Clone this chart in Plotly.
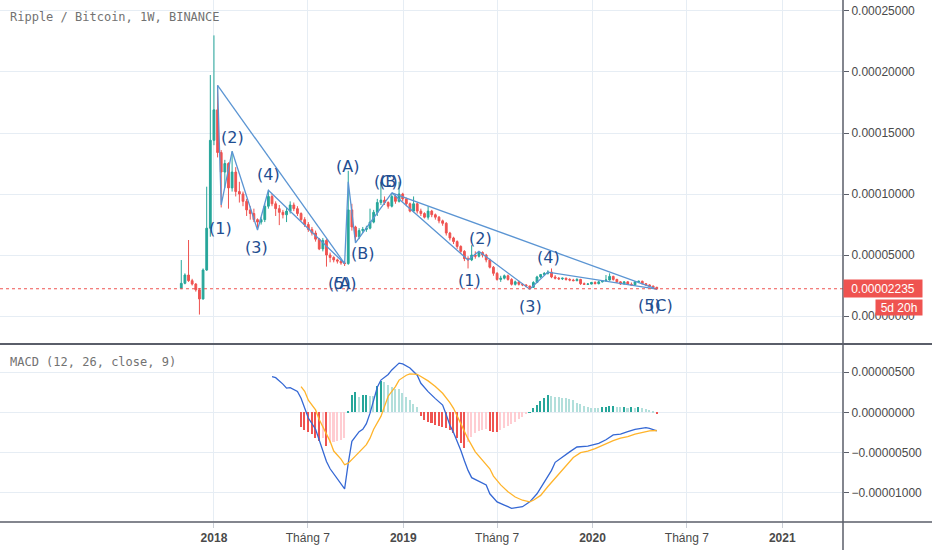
import pandas as pd
import plotly.graph_objects as go

# Ripple / Bitcoin weekly candles, prices in units of 1e-5 BTC
week_start = pd.Timestamp("2017-10-30")

open_e5 = [2.27, 2.68, 3.36, 2.90, 2.62, 2.15, 1.40, 3.77, 7.20, 14.4,
           16.9, 13.4, 11.8, 12.5, 10.5, 11.8, 10.2, 10.0, 9.4, 8.7,
           8.4, 7.9, 7.7, 7.9, 9.0, 9.8, 9.2, 8.8, 8.5, 8.3,
           8.6, 9.1, 8.8, 8.4, 7.9, 7.5, 7.1, 6.8, 6.3, 5.5,
           6.2, 5.0, 4.8, 4.6, 4.5, 4.35, 4.3, 8.7, 7.3, 6.5,
           7.0, 7.1, 7.2, 7.7, 8.5, 9.3, 9.5, 9.3, 9.0, 9.8,
           9.4, 10.0, 9.6, 9.2, 8.6, 9.2, 8.6, 8.4, 8.1, 8.6,
           8.3, 8.1, 7.8, 7.6, 6.8, 6.4, 6.1, 5.7, 5.3, 4.7,
           4.6, 5.0, 4.9, 5.2, 5.0, 4.6, 4.0, 3.5, 3.0, 3.1,
           3.3, 3.0, 2.6, 2.8, 2.6, 2.55, 2.45, 2.35, 2.75, 3.2,
           3.4, 3.5, 3.6, 3.2, 3.1, 3.05, 3.1, 3.0, 2.95, 2.9,
           3.0, 2.65, 2.6, 2.62, 2.75, 2.65, 2.8, 2.9, 2.95, 3.25,
           3.0, 2.8, 2.62, 2.8, 2.6, 2.55, 2.8, 2.85, 2.65, 2.55,
           2.45, 2.35]
high_e5 = [4.59, 3.50, 6.23, 3.05, 2.70, 2.30, 3.90, 10.6, 19.75, 23.0,
           18.9, 13.6, 12.8, 12.6, 13.5, 12.2, 11.0, 10.2, 9.6, 9.0,
           8.8, 8.0, 8.1, 9.2, 10.3, 10.0, 9.4, 9.1, 8.7, 8.9,
           9.4, 9.3, 9.0, 8.5, 8.1, 7.7, 7.3, 7.0, 6.4, 6.4,
           6.3, 5.2, 4.9, 4.7, 4.6, 4.5, 11.9, 9.2, 7.4, 7.2,
           7.3, 7.4, 8.8, 8.7, 9.6, 11.0, 9.8, 9.4, 10.1, 10.0,
           11.0, 10.1, 9.7, 9.3, 9.8, 9.3, 8.8, 8.5, 9.0, 8.7,
           8.4, 8.2, 7.9, 7.7, 6.9, 6.5, 6.2, 5.8, 5.4, 4.9,
           5.8, 5.3, 5.3, 5.3, 5.1, 4.7, 4.1, 3.6, 3.3, 3.4,
           3.4, 3.1, 2.9, 2.9, 2.7, 2.6, 2.5, 2.85, 3.3, 3.45,
           3.6, 3.75, 3.9, 3.35, 3.2, 3.15, 3.15, 3.1, 3.05, 3.1,
           3.05, 2.75, 2.7, 2.8, 2.85, 2.9, 2.95, 3.36, 3.5, 3.3,
           3.05, 2.85, 2.85, 2.85, 2.75, 2.85, 2.9, 2.9, 2.7, 2.6,
           2.5, 2.4]
low_e5 = [2.20, 2.60, 2.80, 2.50, 2.00, 0.12, 1.35, 3.70, 6.50, 14.0,
          13.0, 8.9, 10.5, 8.8, 10.2, 9.8, 9.3, 9.0, 8.2, 7.9,
          7.7, 7.05, 7.5, 7.7, 8.8, 9.0, 8.2, 7.45, 8.0, 7.7,
          8.4, 8.6, 8.2, 7.8, 7.3, 6.9, 6.6, 6.1, 5.4, 5.3,
          4.05, 4.4, 4.4, 4.3, 4.2, 4.1, 4.2, 7.0, 6.0, 6.3,
          6.8, 6.9, 7.1, 7.6, 8.2, 9.1, 9.1, 8.8, 8.9, 9.2,
          9.3, 9.4, 9.0, 8.5, 8.5, 8.4, 8.2, 8.0, 7.9, 8.1,
          7.9, 7.6, 7.4, 6.6, 6.2, 5.9, 5.5, 5.1, 4.5, 3.9,
          4.5, 4.7, 4.8, 4.8, 4.4, 3.9, 3.3, 2.9, 2.8, 3.0,
          2.9, 2.5, 2.5, 2.5, 2.45, 2.35, 2.2, 2.3, 2.7, 3.1,
          3.3, 3.4, 3.1, 3.0, 2.95, 2.95, 2.9, 2.85, 2.85, 2.85,
          2.55, 2.55, 2.55, 2.6, 2.6, 2.6, 2.75, 2.8, 2.9, 2.9,
          2.7, 2.55, 2.6, 2.55, 2.5, 2.5, 2.7, 2.6, 2.5, 2.35,
          2.3, 2.13]
close_e5 = [2.68, 3.36, 2.90, 2.62, 2.15, 1.40, 3.77, 7.20, 14.4, 16.9,
            13.4, 11.8, 12.5, 10.5, 11.8, 10.2, 10.0, 9.4, 8.7, 8.4,
            7.9, 7.7, 7.9, 9.0, 9.8, 9.2, 8.8, 8.5, 8.3, 8.6,
            9.1, 8.8, 8.4, 7.9, 7.5, 7.1, 6.8, 6.3, 5.5, 6.2,
            5.0, 4.8, 4.6, 4.5, 4.35, 4.3, 8.7, 7.3, 6.5, 7.0,
            7.1, 7.2, 7.7, 8.5, 9.3, 9.5, 9.3, 9.0, 9.8, 9.4,
            10.0, 9.6, 9.2, 8.6, 9.2, 8.6, 8.4, 8.1, 8.6, 8.3,
            8.1, 7.8, 7.6, 6.8, 6.4, 6.1, 5.7, 5.3, 4.7, 4.6,
            5.0, 4.9, 5.2, 5.0, 4.6, 4.0, 3.5, 3.0, 3.1, 3.3,
            3.0, 2.6, 2.8, 2.6, 2.55, 2.45, 2.35, 2.75, 3.2, 3.4,
            3.5, 3.6, 3.2, 3.1, 3.05, 3.1, 3.0, 2.95, 2.9, 3.0,
            2.65, 2.6, 2.62, 2.75, 2.65, 2.8, 2.9, 2.95, 3.25, 3.0,
            2.8, 2.62, 2.8, 2.6, 2.55, 2.8, 2.85, 2.65, 2.55, 2.45,
            2.35, 2.235]
last_price = 0.00002235

# MACD (12, 26, close, 9), values in units of 1e-6, read at these week numbers
macd_weeks = [25, 26, 28, 29, 30, 32, 33, 34, 35, 37, 38, 39, 40, 41, 43, 44, 45, 46,
              47, 49, 50, 51, 52, 54, 55, 57, 58, 60, 61, 63, 65, 66, 68, 70, 72, 73,
              74, 75, 76, 77, 78, 79, 80, 82, 84, 85, 87, 89, 91, 94, 96, 98, 100, 102,
              103, 105, 107, 109, 112, 115, 117, 119, 121, 123, 125, 128, 129, 131]
macd_e6 = [4.43, 4.3, 3.5, 3.0, 3.06, 2.6, 1.74, 0.5, -0.7, -2.1, -3.4, -4.6, -6.1, -7.0,
           -8.3, -9.0, -9.5, -6.3, -3.6, -2.4, -2.1, -1.4, -0.1, 3.1, 4.0, 4.7, 5.26, 6.1,
           6.0, 5.5, 4.6, 3.6, 2.57, 1.7, 0.9, -0.3, -1.6, -2.5, -3.5, -4.7, -6.0, -7.2,
           -8.1, -8.5, -9.0, -10.1, -11.1, -11.5, -11.9, -11.7, -11.1, -10.1, -8.6, -7.2,
           -6.2, -5.5, -4.9, -4.3, -4.2, -3.85, -3.4, -2.8, -2.7, -2.4, -2.1, -1.9, -2.0, -2.3]
signal_weeks = [33, 34, 35, 37, 38, 39, 40, 41, 42, 44, 45, 46, 48, 49, 51, 52, 53, 55,
                56, 57, 59, 60, 62, 63, 65, 66, 68, 70, 72, 74, 75, 77, 79, 81, 83, 85,
                86, 88, 90, 92, 94, 96, 97, 99, 101, 103, 105, 107, 108, 110, 112, 114,
                116, 118, 119, 121, 123, 125, 127, 129, 131]
signal_e6 = [3.2, 2.6, 1.5, 0.3, -0.9, -1.8, -2.5, -3.6, -4.8, -5.8, -6.5, -6.3, -5.4,
             -4.9, -4.0, -3.2, -2.1, -0.5, 0.9, 2.0, 3.2, 4.0, 4.6, 4.76, 4.72, 4.43, 3.9,
             3.2, 2.36, 1.2, 0.5, -1.4, -3.3, -4.9, -5.9, -7.0, -7.9, -9.0, -9.85, -10.5,
             -10.9, -11.1, -10.9, -10.3, -9.2, -8.2, -7.2, -6.1, -5.6, -5.0, -4.8, -4.5,
             -4.1, -3.8, -3.5, -3.2, -3.0, -2.7, -2.5, -2.3, -2.25]
hist_first_week = 33
hist_e6 = [-1.78, -2.19, -2.40, -2.73, -3.15, -3.56, -3.23, -4.14, -3.85, -3.73, -3.56, -3.44, -3.15,
           0.17, 2.15, 2.48, 1.94, 2.15, 2.20, 2.05, 2.00, 3.27, 3.89, 3.73, 3.35, 3.15, 2.94,
           2.86, 2.36, 1.94, 1.53, 1.00, 0.60,
           -0.41, -0.95, -1.16, -1.37, -1.57, -1.70, -1.78, -1.90, -2.20, -2.61, -3.15, -3.85,
           -4.39, -3.64, -3.02, -2.61, -2.32, -2.19, -2.07, -2.32, -2.40, -2.48, -2.19, -1.90,
           -1.66, -1.49, -1.16, -0.83, -0.54, -0.25,
           0.04, 0.50, 0.91, 1.41, 1.82, 2.15, 2.07, 1.94, 1.86, 1.82, 1.80, 1.66, 1.53, 1.20,
           0.99, 0.83, 0.70, 0.58, 0.58, 0.58, 0.62, 0.70, 0.83, 0.84, 0.70, 0.62, 0.70, 0.58,
           0.62, 0.58, 0.62, 0.50, 0.41, 0.29, 0.17, -0.12]

# Elliott wave pivots: (week number, price e-5)
impulse1_weeks = [10, 11, 14, 21, 24, 45]
impulse1_e5 = [18.9, 9.1, 13.5, 7.05, 10.3, 4.3]
trend1_weeks = [10, 45]
trend1_e5 = [18.9, 4.3]
abc_weeks = [45, 46, 48, 58]
abc_e5 = [4.3, 11.0, 6.0, 10.1]
impulse2_weeks = [58, 79, 82, 96, 101, 131]
impulse2_e5 = [10.1, 4.6, 5.3, 2.2, 3.6, 2.2]
trend2_weeks = [58, 131]
trend2_e5 = [10.1, 2.2]

wave_labels = [("(1)", 10.9, 7.2), ("(2)", 14.05, 14.6), ("(3)", 20.8, 5.6), ("(4)", 24.1, 11.6),
               ("(A)", 45.8, 12.25), ("(B)", 50.0, 5.15), ("(5)", 43.7, 2.7), ("(A)", 45.0, 2.7),
               ("(C)", 56.4, 11.05), ("(B)", 57.6, 11.05),
               ("(1)", 79.4, 2.95), ("(2)", 82.4, 6.35), ("(3)", 96.2, 0.76), ("(4)", 101.3, 4.8),
               ("(5)", 129.1, 0.9), ("(C)", 132.2, 0.9)]

tick_dates = ["2018-01-01", "2018-07-01", "2019-01-01", "2019-07-01",
              "2020-01-01", "2020-07-01", "2021-01-01"]
tick_text = ["<b>2018</b>", "Tháng 7", "<b>2019</b>", "Tháng 7",
             "<b>2020</b>", "Tháng 7", "<b>2021</b>"]


def wk(w):
    return week_start + pd.Timedelta(days=7 * w)


E5 = 1e-5
E6 = 1e-6
UP = "#26a69a"
DOWN = "#ef5350"
WAVE = "#5b95d3"
GRID = "#e6edf4"
BORDER = "#5a5e69"
TXT = "#4a4a4a"
FONT = "Liberation Sans"

dates = [wk(i) for i in range(len(close_e5))]

fig = go.Figure()
fig.add_trace(go.Candlestick(
    x=dates,
    open=[v * E5 for v in open_e5], high=[v * E5 for v in high_e5],
    low=[v * E5 for v in low_e5], close=[v * E5 for v in close_e5],
    increasing=dict(line=dict(color=UP, width=1), fillcolor=UP),
    decreasing=dict(line=dict(color=DOWN, width=1), fillcolor=DOWN),
    whiskerwidth=0, xaxis="x", yaxis="y", showlegend=False))

for ws, ps in [(trend1_weeks, trend1_e5), (impulse1_weeks, impulse1_e5), (abc_weeks, abc_e5),
               (trend2_weeks, trend2_e5), (impulse2_weeks, impulse2_e5)]:
    fig.add_trace(go.Scatter(x=[wk(w) for w in ws], y=[p * E5 for p in ps], mode="lines",
                             line=dict(color=WAVE, width=1.3), xaxis="x", yaxis="y",
                             showlegend=False, hoverinfo="skip"))

# histogram colours follow TradingView: grow/fall above and below zero
hist_colors = []
prev = None
for h in hist_e6:
    if h >= 0:
        hist_colors.append(UP if (prev is not None and h > prev) else "#b2dfdb")
    else:
        hist_colors.append("#ffcdd2" if (prev is not None and h > prev) else DOWN)
    prev = h

fig.add_trace(go.Bar(
    x=[wk(hist_first_week + k) for k in range(len(hist_e6))],
    y=[h * E6 for h in hist_e6], marker=dict(color=hist_colors, line=dict(width=0)),
    width=0.42 * 7 * 24 * 3600 * 1000, xaxis="x2", yaxis="y2", showlegend=False))
fig.add_trace(go.Scatter(x=[wk(w) for w in macd_weeks], y=[v * E6 for v in macd_e6],
                         mode="lines", line=dict(color="#3568d4", width=1.3),
                         xaxis="x2", yaxis="y2", showlegend=False))
fig.add_trace(go.Scatter(x=[wk(w) for w in signal_weeks], y=[v * E6 for v in signal_e6],
                         mode="lines", line=dict(color="#ffb42b", width=1.3),
                         xaxis="x2", yaxis="y2", showlegend=False))

x_range = ["2016-11-14 10:00", "2021-04-28 02:00"]
xcommon = dict(range=x_range, tickvals=tick_dates, showgrid=True, gridcolor=GRID,
               gridwidth=1, zeroline=False)

annotations = [
    dict(text="Ripple / Bitcoin, 1W, BINANCE", xref="paper", yref="paper", x=8 / 843,
         y=1 - 17 / 522, xanchor="left", yanchor="middle", showarrow=False,
         font=dict(family="DejaVu Sans Mono", size=12, color="#727272")),
    dict(text="MACD (12, 26, close, 9)", xref="paper", yref="paper", x=8 / 843,
         y=1 - 362 / 522, xanchor="left", yanchor="middle", showarrow=False,
         font=dict(family="DejaVu Sans Mono", size=12, color="#727272")),
    dict(text="0.00002235", xref="paper", yref="y", x=1, y=last_price, xanchor="left",
         yanchor="middle", showarrow=False, bgcolor=DOWN, borderpad=2, width=74, height=13,
         font=dict(family=FONT, size=12, color="white")),
    dict(text="5d 20h", xref="paper", yref="y", x=875 / 843, y=last_price, xanchor="left",
         yanchor="top", yshift=-10, showarrow=False, bgcolor=DOWN, borderpad=1, width=44,
         height=13, font=dict(family=FONT, size=12, color="white")),
]
for text, w, p in wave_labels:
    annotations.append(dict(text=text, x=wk(w), y=p * E5, xref="x", yref="y",
                            showarrow=False, font=dict(family="DejaVu Sans", size=16,
                                                       color="#1f4e91")))

shapes = [
    dict(type="line", xref="paper", yref="y", x0=0, x1=1, y0=last_price, y1=last_price,
         line=dict(color=DOWN, width=1, dash="dot"), layer="above"),
    dict(type="line", xref="paper", yref="paper", x0=0, x1=932 / 843,
         y0=1 - 344 / 522, y1=1 - 344 / 522, line=dict(color=BORDER, width=2)),
    dict(type="line", xref="paper", yref="paper", x0=0, x1=932 / 843, y0=0, y1=0,
         line=dict(color=BORDER, width=1.5)),
    dict(type="line", xref="paper", yref="paper", x0=1, x1=1, y0=-28 / 522, y1=1,
         line=dict(color=BORDER, width=1.5)),
]

fig.update_layout(
    width=932, height=550,
    margin=dict(l=0, r=89, t=0, b=28),
    paper_bgcolor="white", plot_bgcolor="white",
    font=dict(family=FONT, size=12, color=TXT),
    showlegend=False, bargap=0,
    xaxis=dict(domain=[0, 1], anchor="y", showticklabels=False, ticks="",
               rangeslider=dict(visible=False), **xcommon),
    xaxis2=dict(domain=[0, 1], anchor="y2", ticktext=tick_text, ticks="outside",
                ticklen=5, tickcolor="#c9ced6", tickfont=dict(family=FONT, size=12, color=TXT),
                **xcommon),
    yaxis=dict(domain=[1 - 343 / 522, 1], anchor="x", side="right",
               range=[-2.21e-5, 25.9e-5], tickvals=[0, 5e-5, 1e-4, 1.5e-4, 2e-4, 2.5e-4],
               tickformat=".8f", showgrid=True, gridcolor=GRID, zeroline=False,
               ticks="outside", ticklen=5, tickcolor=BORDER,
               tickfont=dict(family=FONT, size=12, color=TXT)),
    yaxis2=dict(domain=[0, 1 - 345 / 522], anchor="x2", side="right",
                range=[-1.36e-5, 8.35e-6], tickvals=[-1e-5, -5e-6, 0, 5e-6],
                tickformat=".8f", showgrid=True, gridcolor=GRID, zeroline=False,
                ticks="outside", ticklen=5, tickcolor=BORDER,
                tickfont=dict(family=FONT, size=12, color=TXT)),
    annotations=annotations,
    shapes=shapes,
)

# the page has a default body margin; drop it so the figure sits at the window corner
fig.write_html("out.html", config={"displayModeBar": False},
               post_script="document.body.style.margin='0';document.body.style.overflow='hidden';")
